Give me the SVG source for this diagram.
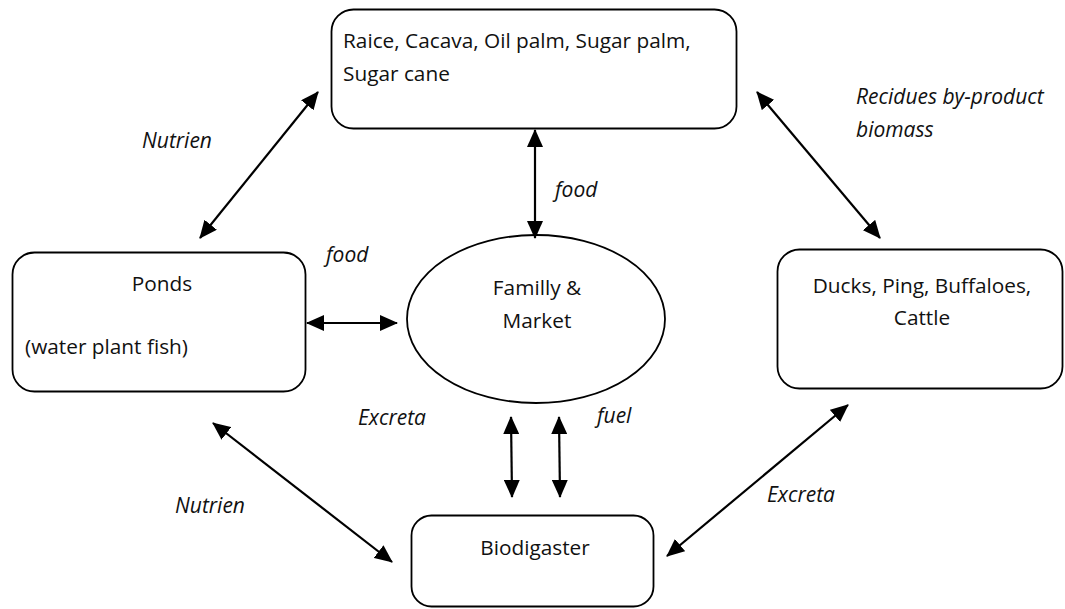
<svg xmlns="http://www.w3.org/2000/svg" width="1065" height="609" viewBox="0 0 1065 609">
<style>
  .box{fill:#fff;stroke:#000;stroke-width:1.8}
  .t{font-family:"Open Sans","Liberation Sans",sans-serif;font-size:20.8px;fill:#111}
  .i{font-family:"Open Sans","Liberation Sans",sans-serif;font-size:21px;font-style:italic;fill:#111}
  .c{text-anchor:middle}
  .conn{stroke:#000;stroke-width:2.2;fill:none;marker-start:url(#ah);marker-end:url(#ah)}
</style>
<defs>
  <marker id="ah" markerUnits="userSpaceOnUse" markerWidth="18" markerHeight="16" viewBox="0 0 18 16" refX="17" refY="8" orient="auto-start-reverse">
    <path d="M0,0 L18,8 L0,16 Z" fill="#000"/>
  </marker>
</defs>
<rect width="1065" height="609" fill="#fff"/>
<g id="crops">
  <rect class="box" x="331.5" y="9.5" width="405" height="119" rx="22"/>
  <text class="t" x="343" y="48">Raice, Cacava, Oil palm, Sugar palm,</text>
  <text class="t" x="343" y="81">Sugar cane</text>
</g>
<g id="ponds">
  <rect class="box" x="12.5" y="252.5" width="293" height="139" rx="22"/>
  <text class="t c" x="162" y="291">Ponds</text>
  <text class="t" x="25" y="354">(water plant fish)</text>
</g>
<g id="family">
  <ellipse class="box" cx="536" cy="319" rx="129" ry="84"/>
  <text class="t c" x="537" y="295">Familly &amp;</text>
  <text class="t c" x="537" y="328">Market</text>
</g>
<g id="livestock">
  <rect class="box" x="777.5" y="249.5" width="285" height="139" rx="22"/>
  <text class="t c" x="922" y="293">Ducks, Ping, Buffaloes,</text>
  <text class="t c" x="922" y="325">Cattle</text>
</g>
<g id="biodigaster">
  <rect class="box" x="411.5" y="515.5" width="242" height="91" rx="20"/>
  <text class="t c" x="535" y="555">Biodigaster</text>
</g>
<g id="connectors">
  <path class="conn" d="M200,238 L318,92"/>
  <path class="conn" d="M757,92 L880,238"/>
  <path class="conn" d="M535,130 L535,238"/>
  <path class="conn" d="M307,323 L397,323"/>
  <path class="conn" d="M511,417 L512,497"/>
  <path class="conn" d="M559,417 L560,497"/>
  <path class="conn" d="M213,423 L392,562"/>
  <path class="conn" d="M848,405 L667,556"/>
</g>
<g id="labels">
  <text class="i" x="142" y="148">Nutrien</text>
  <text class="i" x="856" y="104">Recidues by-product</text>
  <text class="i" x="856" y="137">biomass</text>
  <text class="i" x="555" y="197">food</text>
  <text class="i" x="326" y="262">food</text>
  <text class="i" x="358" y="425">Excreta</text>
  <text class="i" x="597" y="423">fuel</text>
  <text class="i" x="175" y="513">Nutrien</text>
  <text class="i" x="767" y="502">Excreta</text>
</g>
</svg>
